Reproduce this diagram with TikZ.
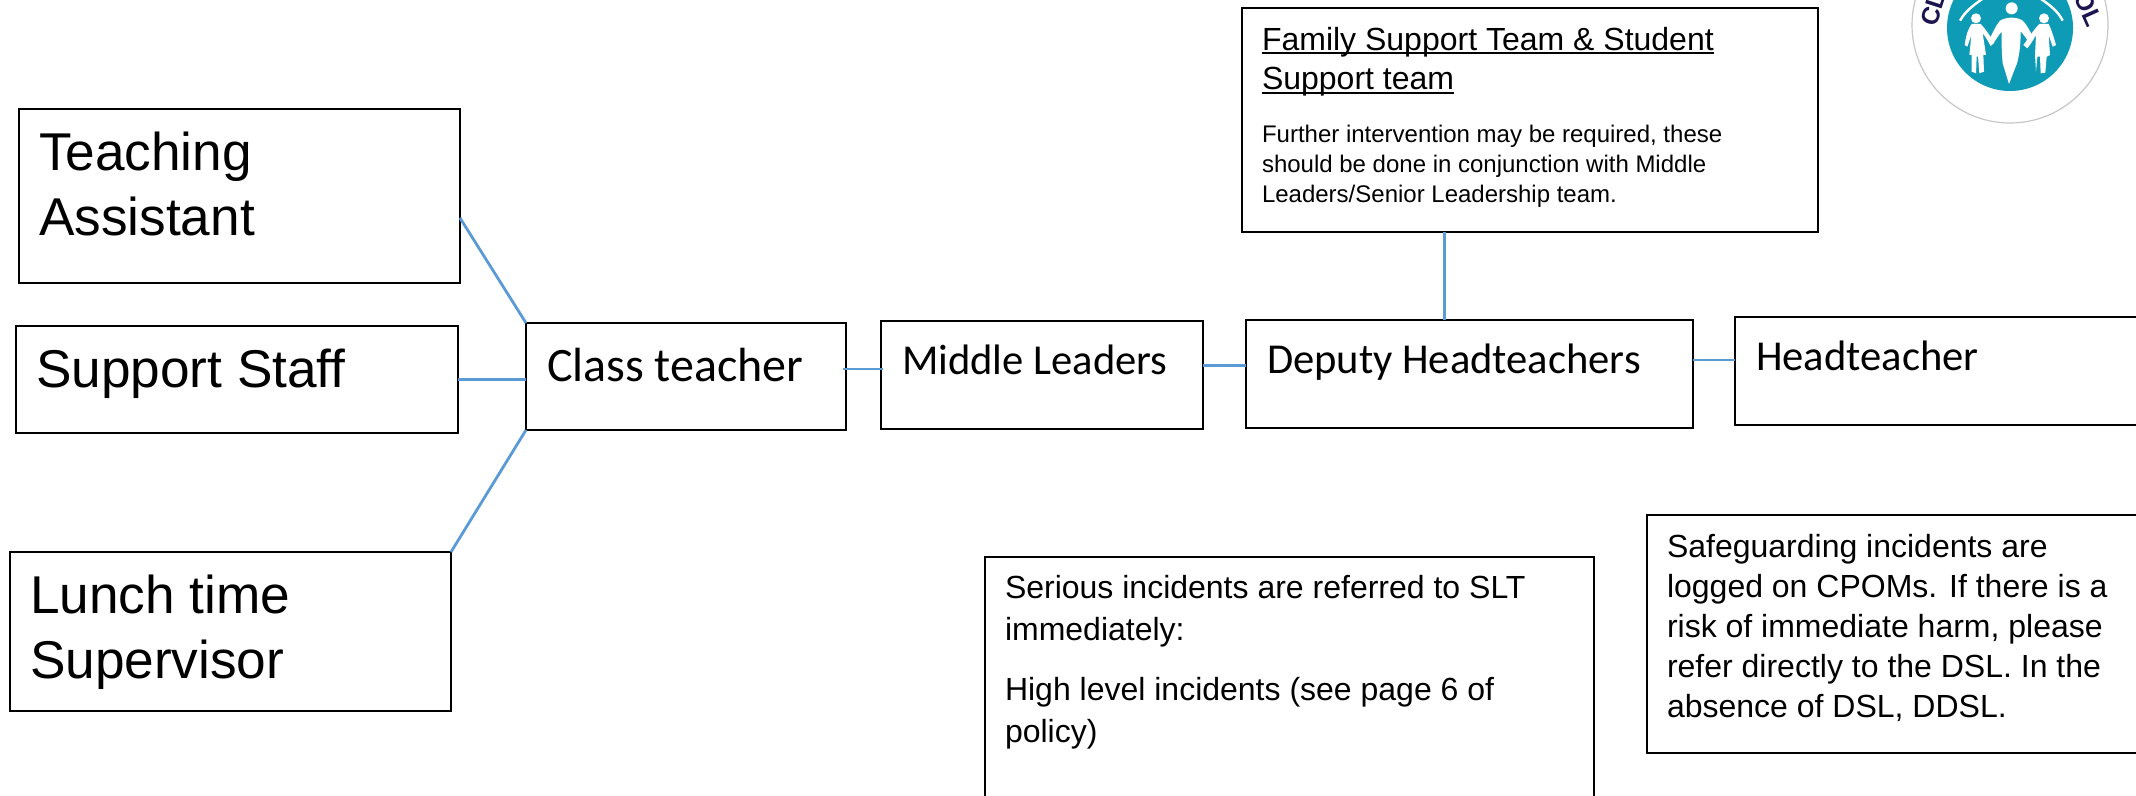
\documentclass[tikz,border=0pt]{standalone}
\usepackage{fontspec}
\setmainfont{Liberation Sans}
\newfontfamily\calfont{Carlito}
\usetikzlibrary{calc}
\definecolor{linkblue}{HTML}{5B9BD5}
\definecolor{logoteal}{HTML}{0E9BB5}
\definecolor{logonavy}{HTML}{1B1650}
\tikzset{
  boxs/.style={draw=black,line width=1.1pt,fill=white,anchor=north west,inner sep=0pt,outer sep=0pt},
  link/.style={draw=linkblue,line width=1.4pt},
  kid/.style={fill=white,draw=none}
}
\newcommand\ulin[1]{\leavevmode\sbox0{#1}\rlap{\rule[-1.9pt]{\wd0}{0.9pt}}\box0 }
% name, x, y, w, h, left pad, top pad, font pt, leading pt, text (all geometry in px)
\newcommand\bx[9]{\node[boxs] (#1) at (#2,#3) {\parbox[c][\dimexpr #5pt/2\relax][t]{\dimexpr #4pt/2\relax}{%
  \leftskip=\dimexpr #6pt/2\relax \rightskip=0pt plus 1fil \parindent=0pt
  \fontsize{#8}{#9}\selectfont\vspace*{\dimexpr #7pt/2\relax}\bxtext}};}
\begin{document}
\begin{tikzpicture}[x=0.5pt,y=-0.5pt]
\clip (0,0) rectangle (2136,796);
\fill[white] (0,0) rectangle (2136,796);

% logo
\draw[draw=black!22,line width=0.6pt,fill=white] (2010,25) circle (98);
\fill[logoteal] (2010,28) circle (63);
\node[font=\bfseries\fontsize{12.5}{12.5}\selectfont,text=logonavy,rotate=72,inner sep=0pt] (logol) at (1933,9) {CL};
\node[font=\bfseries\fontsize{12.5}{12.5}\selectfont,text=logonavy,rotate=-66,inner sep=0pt] (logor) at (2088,9) {OL};
\begin{scope}[shift={(1860,0)},scale=1/3]
  % centre figure
  \fill[kid] (455,25) circle (18);
  \fill[kid] (420,62) .. controls (440,50) and (470,50) .. (488,62)
     .. controls (500,72) and (510,95) .. (520,112) -- (505,125)
     .. controls (495,110) and (488,100) .. (482,95)
     .. controls (482,130) and (478,180) .. (465,205)
     -- (447,252) -- (428,190) .. controls (425,160) and (424,120) .. (425,95)
     .. controls (415,105) and (408,120) .. (398,132) -- (388,118)
     .. controls (398,100) and (408,75) .. (420,62) -- cycle;
  % left child
  \fill[kid] (348,55) circle (15);
  \fill[kid] (335,72) -- (362,72) .. controls (375,85) and (388,105) .. (403,128) -- (392,138)
     .. controls (385,125) and (378,112) .. (368,100) -- (378,165) -- (370,165) -- (372,215)
     -- (358,220) -- (354,170) -- (350,170) -- (348,220) -- (335,215) -- (335,165)
     -- (328,165) -- (334,105) -- (322,140) -- (314,135) .. controls (318,105) and (325,85) .. (335,72) -- cycle;
  % right child
  \fill[kid] (552,55) circle (15);
  \fill[kid] (538,72) -- (566,72) .. controls (575,90) and (582,115) .. (588,135) -- (578,140)
     -- (566,105) -- (570,165) -- (560,170) -- (556,218) -- (542,220) -- (540,170) -- (532,170)
     -- (528,215) -- (525,165) -- (528,105) .. controls (520,120) and (510,135) .. (502,145) -- (490,135)
     .. controls (505,115) and (520,90) .. (538,72) -- cycle;
  % arcs
  \draw[white,line width=1.2pt] (300,62) .. controls (315,35) and (340,15) .. (370,-5);
  \draw[white,line width=1.2pt] (608,62) .. controls (595,35) and (570,15) .. (540,-5);
\end{scope}

% boxes
\def\bxtext{Teaching\\Assistant}
\bx{ta}{19}{109}{441}{174}{20}{23}{26.6}{32.7}{}
\def\bxtext{Support Staff}
\bx{ss}{16}{326}{442}{107}{20}{23}{26.6}{32.7}{}
\def\bxtext{Lunch time\\Supervisor}
\bx{lt}{10}{552}{441}{159}{20}{23}{26.6}{32.7}{}
\def\bxtext{\calfont Class teacher}
\bx{ct}{526}{323}{320}{107}{21}{25}{24}{28}{}
\def\bxtext{\calfont Middle Leaders}
\bx{ml}{881}{321}{322}{108}{21}{24}{21.3}{28}{}
\def\bxtext{\calfont Deputy Headteachers}
\bx{dh}{1246}{320}{447}{108}{21}{24}{21.3}{28}{}
\def\bxtext{\calfont Headteacher}
\bx{ht}{1735}{317}{420}{108}{21}{24}{21.3}{28}{}
\def\bxtext{{\fontsize{16}{19.8}\selectfont\ulin{Family Support Team \& Student}\\\ulin{Support team}\par}\vspace{11.5pt}{\fontsize{12}{15}\selectfont Further intervention may be required, these\\should be done in conjunction with Middle\\Leaders/Senior Leadership team.\par}}
\bx{fs}{1242}{8}{576}{224}{20}{19}{16}{19.8}{}
\def\bxtext{Serious incidents are referred to SLT\\immediately:\\[9pt]High level incidents (see page 6 of\\policy)}
\bx{si}{985}{557}{609}{260}{20}{18}{16}{21}{}
\def\bxtext{Safeguarding incidents are\\logged on CPOMs. If there is a\\risk of immediate harm, please\\refer directly to the DSL. In the\\absence of DSL, DDSL.}
\bx{sg}{1647}{515}{510}{238}{20}{19}{16}{20.1}{}

% connectors
\draw[link] ($(ta.north east)!0.626!(ta.south east)$) -- (ct.north west);
\draw[link] (ss.east) -- (ss.east -| ct.west);
\draw[link] (lt.north east) -- (ct.south west);
\coordinate (ctout) at ($(ct.north east)!0.43!(ct.south east)$);
\draw[link,shorten <=-1.5pt,shorten >=-1pt] (ctout) -- (ctout -| ml.west);
\coordinate (mlout) at ($(ml.north east)!0.41!(ml.south east)$);
\draw[link] (mlout) -- (mlout -| dh.west);
\coordinate (dhout) at ($(dh.north east)!0.37!(dh.south east)$);
\draw[link] (dhout) -- (dhout -| ht.west);
\coordinate (fsout) at ($(fs.south west)!0.352!(fs.south east)$);
\draw[link] (fsout) -- (fsout |- dh.north);
\end{tikzpicture}
\end{document}
